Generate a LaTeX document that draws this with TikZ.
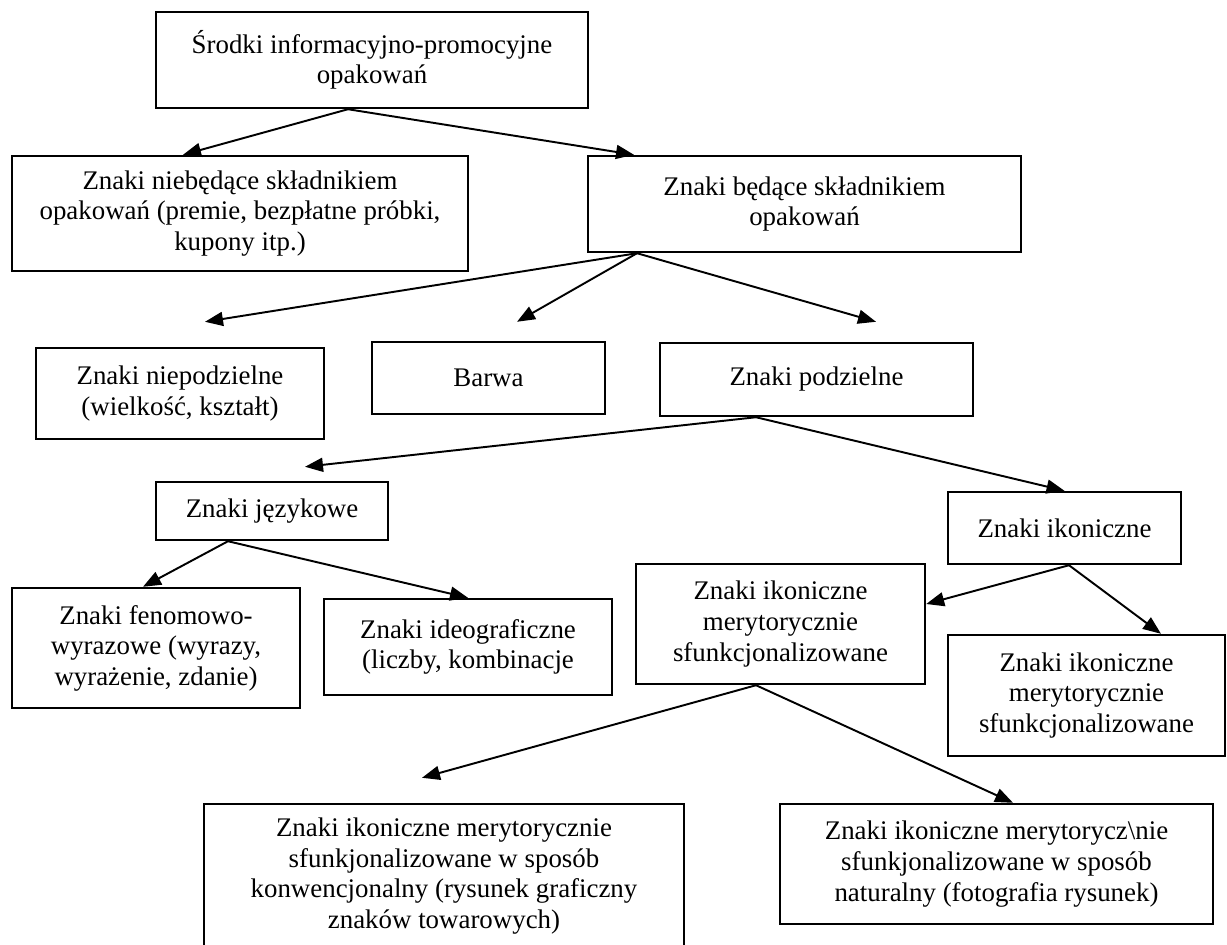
\documentclass[tikz,border=0pt]{standalone}
\usepackage{fontspec}
\setmainfont{Liberation Serif}
\usepackage{tikz}
\usetikzlibrary{arrows.meta,calc}
\tikzset{
  box/.style={draw,line width=1.4pt,inner sep=2pt,align=center,font=\fontsize{15.3}{17.4}\selectfont},
  arr/.style={-{Triangle[length=0.36cm,width=0.28cm]},line width=1.1pt},
}

\begin{document}
\begin{tikzpicture}[x=0.02cm,y=-0.02cm]
\useasboundingbox (0,0) rectangle (1227,944);
\node[box,minimum width=8.64cm,minimum height=1.92cm] (srodki) at (372,60) {Środki informacyjno-promocyjne\\opakowań};
\node[box,minimum width=9.12cm,minimum height=2.30cm] (niebed) at (240,213.5) {Znaki niebędące składnikiem\\opakowań (premie, bezpłatne próbki,\\kupony itp.)};
\node[box,minimum width=8.66cm,minimum height=1.92cm] (bedace) at (804.5,204) {Znaki będące składnikiem\\opakowań};
\node[box,minimum width=5.76cm,minimum height=1.82cm] (niepodz) at (180,393.5) {Znaki niepodzielne\\(wielkość, kształt)};
\node[box,minimum width=4.66cm,minimum height=1.44cm] (barwa) at (488.5,378) {Barwa};
\node[box,minimum width=6.26cm,minimum height=1.46cm] (podz) at (816.5,379.5) {Znaki podzielne};
\node[box,minimum width=4.64cm,minimum height=1.16cm] (jezyk) at (272,511) {Znaki językowe};
\node[box,minimum width=4.66cm,minimum height=1.44cm] (ikon) at (1064.5,528) {Znaki ikoniczne};
\node[box,minimum width=5.76cm,minimum height=2.40cm] (fenom) at (156,648) {Znaki fenomowo-\\wyrazowe (wyrazy,\\wyrażenie, zdanie)};
\node[box,minimum width=5.76cm,minimum height=1.92cm] (ideogr) at (468,647) {Znaki ideograficzne\\(liczby, kombinacje};
\node[box,minimum width=5.78cm,minimum height=2.40cm] (merytA) at (780.5,624) {Znaki ikoniczne\\merytorycznie\\sfunkcjonalizowane};
\node[box,minimum width=5.54cm,minimum height=2.42cm] (merytB) at (1086.5,695.5) {Znaki ikoniczne\\merytorycznie\\sfunkcjonalizowane};
\node[box,minimum width=9.60cm,minimum height=2.88cm] (konw) at (444,876) {Znaki ikoniczne merytorycznie\\sfunkjonalizowane w sposób\\konwencjonalny (rysunek graficzny\\znaków towarowych)};
\node[box,minimum width=8.66cm,minimum height=2.40cm] (natur) at (996.5,864) {Znaki ikoniczne merytorycz\textbackslash nie\\sfunkjonalizowane w sposób\\naturalny (fotografia rysunek)};
\draw[arr] ($(srodki.south)+(-24,0)$) -- ($(niebed.north)+(-57,0)$);
\draw[arr] ($(srodki.south)+(-24,0)$) -- ($(bedace.north)+(-170.5,0)$);
\draw[arr] ($(bedace.south)+(-167.5,0)$) -- ($(niepodz.north)+(25,-25)$);
\draw[arr] ($(bedace.south)+(-167.5,0)$) -- ($(barwa.north)+(28.5,-19)$);
\draw[arr] ($(bedace.south)+(-167.5,0)$) -- ($(podz.north)+(59.5,-20)$);
\draw[arr] ($(podz.south)+(-60.5,0)$) -- ($(jezyk.north)+(33,-14)$);
\draw[arr] ($(podz.south)+(-60.5,0)$) -- (ikon.north);
\draw[arr] ($(jezyk.south)+(-44,0)$) -- ($(fenom.north)+(-13,0)$);
\draw[arr] ($(jezyk.south)+(-44,0)$) -- (ideogr.north);
\draw[arr] ($(ikon.south)+(4.5,0)$) -- ($(merytA.east)+(0,-20)$);
\draw[arr] ($(ikon.south)+(4.5,0)$) -- ($(merytB.north)+(74.5,0)$);
\draw[arr] ($(merytA.south)+(-24.5,0)$) -- ($(konw.north)+(-22,-25)$);
\draw[arr] ($(merytA.south)+(-24.5,0)$) -- ($(natur.north)+(16.5,0)$);
\end{tikzpicture}
\end{document}
